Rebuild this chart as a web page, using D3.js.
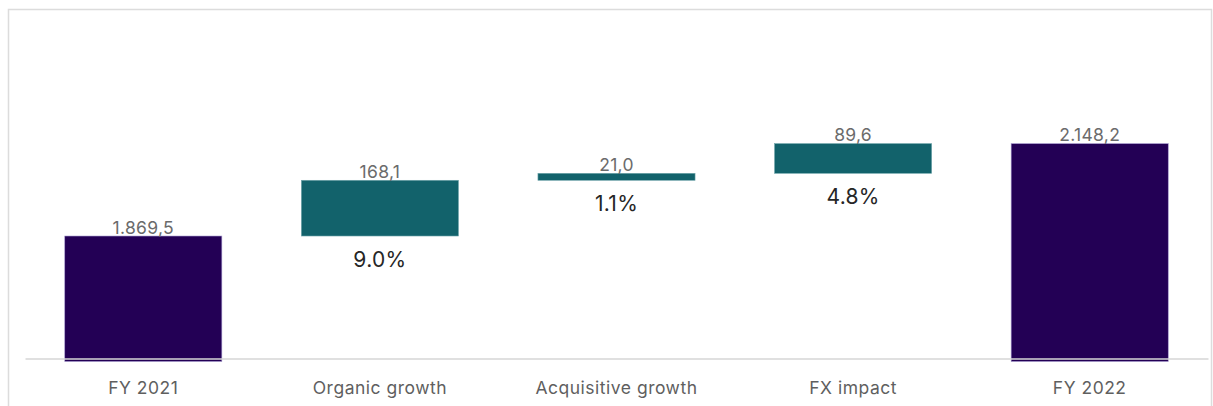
<!DOCTYPE html>
<html>
<head>
<meta charset="utf-8">
<script src="https://cdn.jsdelivr.net/npm/d3@7"></script>
<style>
  html, body { margin: 0; padding: 0; background: #fff; }
  svg { display: block; font-family: Inter, "Noto Sans", sans-serif; }
</style>
</head>
<body>
<div id="chart"></div>

<script>
  // Waterfall data
  const categories = ["FY 2021", "Organic growth", "Acquisitive growth", "FX impact", "FY 2022"];
  const values = [1869.5, 168.1, 21.0, 89.6, 2148.2];
  const kinds = ["total", "delta", "delta", "delta", "total"];
  const pctLabels = ["", "9.0%", "1.1%", "4.8%", ""];

  const width = 1213;
  const height = 406;
  const margin = { top: 93.3, right: 5, bottom: 47.5, left: 25 };

  const colors = { total: "#230055", delta: "#12626b" };

  // european number style: 1.869,5
  const fmt = d3.formatLocale({ decimal: ",", thousands: ".", grouping: [3], currency: ["", ""] }).format(",.1f");

  // build start/end for each step
  let running = 0;
  const steps = categories.map((c, i) => {
    let start, end;
    if (kinds[i] === "total") { start = null; end = values[i]; running = values[i]; }
    else { start = running; end = running + values[i]; running = end; }
    return { name: c, value: values[i], kind: kinds[i], start, end, pct: pctLabels[i] };
  });

  const svg = d3.select("#chart")
    .append("svg")
    .attr("width", width)
    .attr("height", height);

  // outer frame
  svg.append("rect")
    .attr("x", 8.5)
    .attr("y", 9.5)
    .attr("width", 1203)
    .attr("height", 420)
    .attr("fill", "none")
    .attr("stroke", "#dcdcdc")
    .attr("stroke-width", 1.5);

  const xScale = d3.scaleBand()
    .domain(categories)
    .range([margin.left, width - margin.right])
    .paddingInner(0.336)
    .paddingOuter(0.168);

  const yScale = d3.scaleLinear()
    .domain([1500, 2300])
    .range([height - margin.bottom, margin.top]);

  const base = yScale.domain()[0];

  // bars
  svg.selectAll(".bar")
    .data(steps)
    .enter()
    .append("rect")
    .attr("class", "bar")
    .attr("x", d => xScale(d.name))
    .attr("width", xScale.bandwidth())
    .attr("y", d => yScale(d.end))
    .attr("height", d => d.kind === "total"
      ? yScale(base) - yScale(d.end) + 3
      : yScale(d.start) - yScale(d.end))
    .attr("fill", d => colors[d.kind])
    .attr("stroke", d => d.kind === "total" ? "#a99bd0" : "#6fa5ab")
    .attr("stroke-width", 0.6);

  // category axis
  svg.append("g")
    .attr("transform", `translate(0, ${yScale(base)})`)
    .call(d3.axisBottom(xScale).tickSize(0).tickPadding(23))
    .call(g => g.select(".domain")
      .attr("stroke", "#d6d6d6")
      .attr("stroke-width", 1.5))
    .call(g => g.selectAll(".tick text")
      .attr("font-family", "Inter, sans-serif")
      .attr("font-size", "17.5px")
      .attr("letter-spacing", "0.5px")
      .attr("fill", "#5f5f5f"));

  // value labels above bars
  svg.selectAll(".val")
    .data(steps)
    .enter()
    .append("text")
    .attr("class", "val")
    .attr("x", d => xScale(d.name) + xScale.bandwidth() / 2)
    .attr("y", d => yScale(d.end) - 2.5)
    .attr("text-anchor", "middle")
    .attr("font-size", "17.5px")
    .attr("letter-spacing", "0.3px")
    .attr("fill", "#6b6b6b")
    .text(d => fmt(d.value));

  // percentage labels below the delta bars
  svg.selectAll(".pct")
    .data(steps.filter(d => d.pct))
    .enter()
    .append("text")
    .attr("class", "pct")
    .attr("x", d => xScale(d.name) + xScale.bandwidth() / 2)
    .attr("y", d => yScale(d.start) + 30.5)
    .attr("text-anchor", "middle")
    .attr("font-size", "21px")
    .attr("letter-spacing", "0.3px")
    .attr("fill", "#262626")
    .text(d => d.pct);
</script>
</body>
</html>
